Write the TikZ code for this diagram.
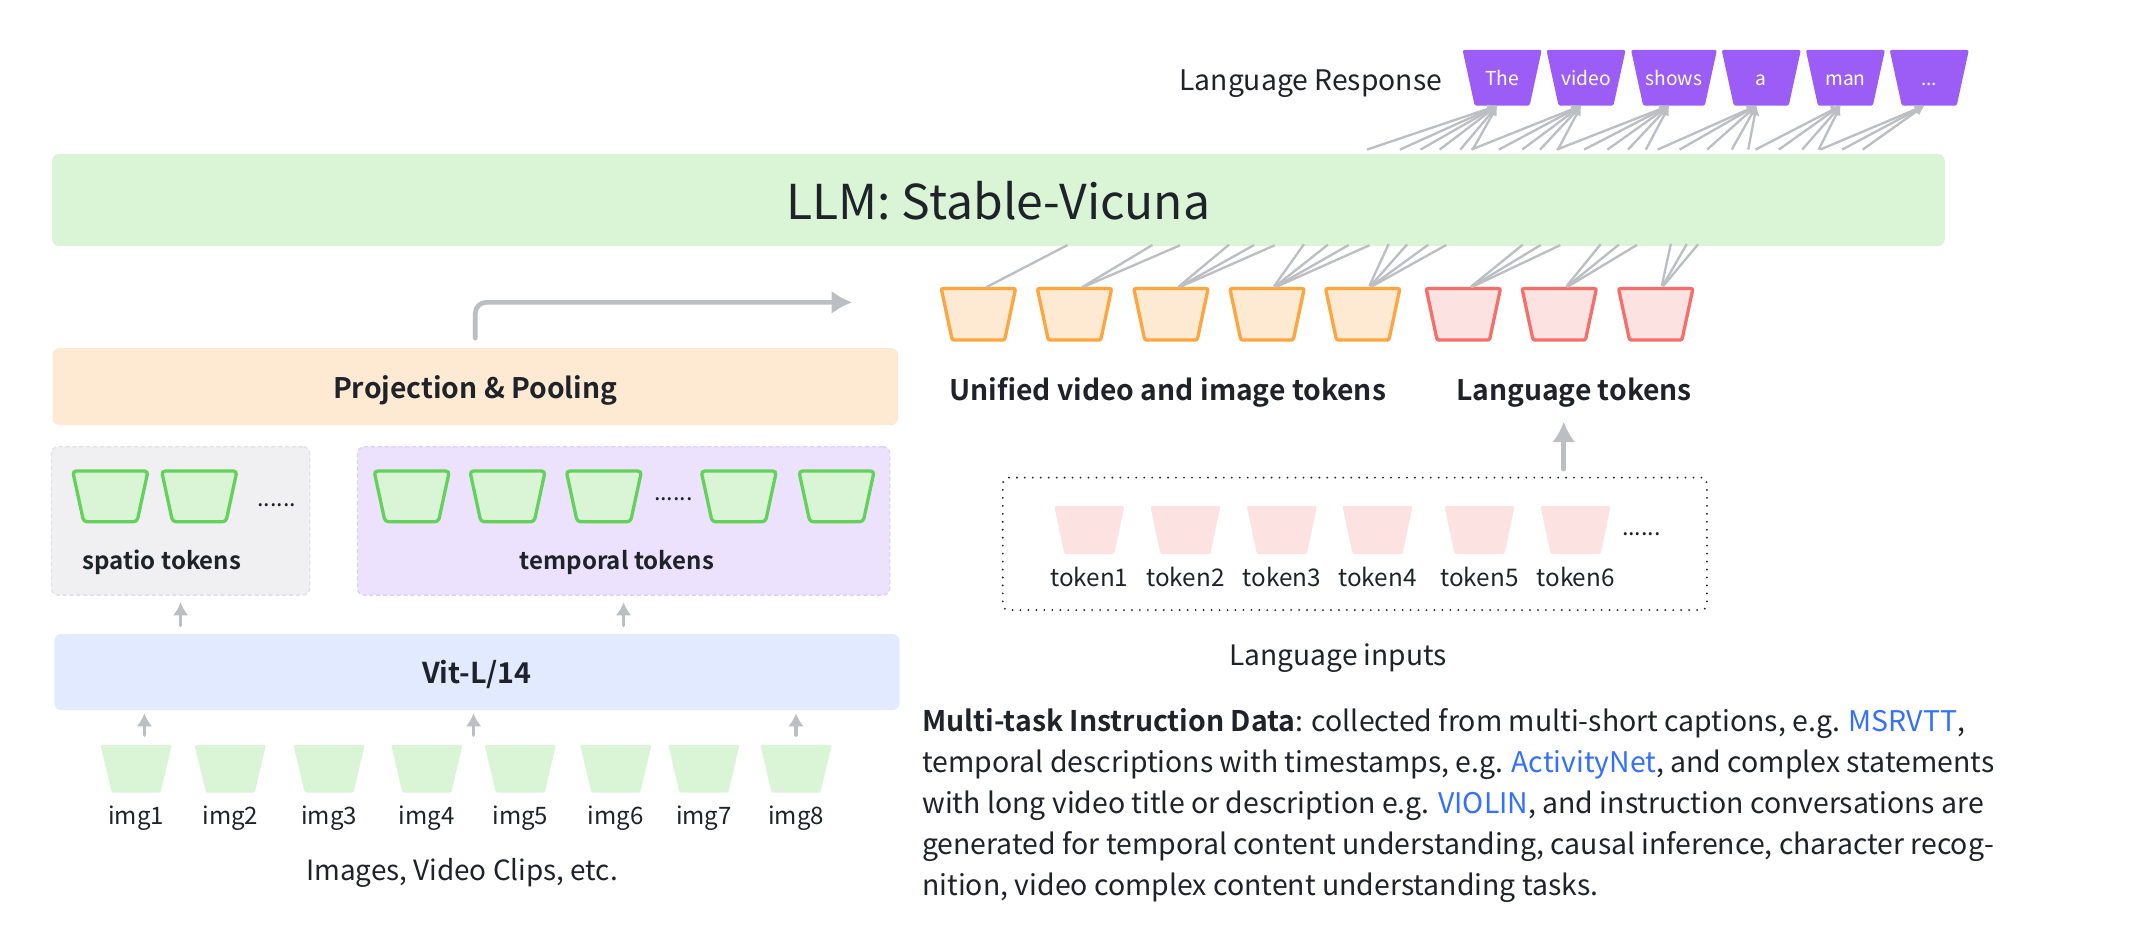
\documentclass[tikz,border=0pt]{standalone}
\usepackage{fontspec}
\setmainfont{Noto Sans CJK SC}[BoldFont={Noto Sans CJK SC Bold}]
\usetikzlibrary{arrows.meta, shapes.geometric, calc}

\definecolor{txt}{HTML}{1F2329}
\definecolor{llmfill}{HTML}{DAF5D6}
\definecolor{purp}{HTML}{9B5DF6}
\definecolor{arrowgray}{HTML}{BBBFC4}
\definecolor{projfill}{HTML}{FEEAD2}
\definecolor{spatfill}{HTML}{F0F0F2}
\definecolor{spatline}{HTML}{E2E2E6}
\definecolor{tempfill}{HTML}{ECE2FE}
\definecolor{templine}{HTML}{DDD0F8}
\definecolor{tokgreen}{HTML}{62D25A}
\definecolor{vitfill}{HTML}{E1EAFF}
\definecolor{tokorange}{HTML}{FFA53D}
\definecolor{orangefill}{HTML}{FEEAD3}
\definecolor{tokred}{HTML}{F76E69}
\definecolor{redfill}{HTML}{FDE2E2}
\definecolor{linkblue}{HTML}{3370FF}

\newcommand{\fsz}[1]{\fontsize{#1}{#1}\selectfont}

\tikzset{
  bar/.style={rounded corners=5pt, inner sep=0pt, text depth=0pt},
  tok/.style={trapezium, shape border rotate=180, outer sep=0pt,
    minimum width=0pt, minimum height=0pt, rounded corners=1.5pt},
  greentok/.style={tok, trapezium angle=77.8, draw=tokgreen, fill=llmfill, line width=2.4pt,
    rounded corners=2.5pt, inner xsep=19.45pt, inner ysep=18.45pt},
  orangetok/.style={tok, trapezium angle=78, draw=tokorange, fill=orangefill, line width=2.4pt,
    inner xsep=19.1pt, inner ysep=18.8pt},
  redtok/.style={orangetok, draw=tokred, fill=redfill},
  imgtok/.style={tok, trapezium angle=76.7, fill=llmfill, inner xsep=17.75pt, inner ysep=17.4pt},
  pinktok/.style={tok, trapezium angle=78, fill=redfill, inner xsep=18.15pt, inner ysep=17.5pt},
  purptok/.style={tok, trapezium angle=77.7, fill=purp, text=white, font=\fsz{14},
    text width=40pt, align=center, text height=11pt, text depth=0pt,
    inner xsep=0pt, inner ysep=14.8pt},
  fan/.style={draw=arrowgray, line width=1.7pt},
  fanarrow/.style={fan, -{Latex[length=7pt, width=7pt]}},
  smallarrow/.style={draw=arrowgray, line width=2.5pt, line cap=round, -{Latex[length=9.5pt, width=11.5pt]}},
  bigarrow/.style={draw=arrowgray, line width=3.4pt, line cap=round, -{Latex[length=15pt, width=17pt]}},
  lbl/.style={inner sep=0pt, anchor=base},
}

\begin{document}
\begin{tikzpicture}[x=1pt, y=-1pt, every node/.append style={text=txt}]
  \fill[white] (0,0) rectangle (1568,690.7);
  \useasboundingbox (0,0) rectangle (1568,690.7);

  % language response
  \node[lbl, font=\fsz{20.6}] (resp) at (955, 65.6) {Language Response};
  \node[purptok] (w1) at (1094.5, 56.7) {The};
  \node[purptok] (w2) at (1155.6, 56.7) {video};
  \node[purptok, text width=44.9pt] (w3) at (1219.7, 56.7) {shows};
  \node[purptok] (w4) at (1283.3, 56.7) {a};
  \node[purptok] (w5) at (1344.6, 56.7) {man};
  \node[purptok] (w6) at (1405.7, 56.7) {...};

  % LLM
  \node[bar, fill=llmfill, minimum width=1379pt, minimum height=67.1pt, font=\fsz{35}] (llm)
    at (727.5, 145.75) {LLM: Stable-Vicuna};

  \foreach \n/\offs in {w1/{-95,-71,-56,-42,-27,-18}, w2/{-80,-60,-43,-30,-17},
      w3/{-82,-62,-45,-30,-17}, w4/{-72,-56,-36,-18,-6}, w5/{-62,-45,-28,-16}, w6/{-76,-60,-45}}
    \foreach \o in \offs
      \draw[fanarrow] ($(\n.south |- llm.north)+(\o-3.5,-3)$) -- ([xshift=-3.5pt]\n.south);

  % token row under the LLM
  \node[orangetok] (vt1) at (712.9, 229) {};
  \node[orangetok] (vt2) at (782.9, 229) {};
  \node[orangetok] (vt3) at (853.2, 229) {};
  \node[orangetok] (vt4) at (923.2, 229) {};
  \node[orangetok] (vt5) at (992.9, 229) {};
  \node[redtok] (lt1) at (1066.2, 229) {};
  \node[redtok] (lt2) at (1136.1, 229) {};
  \node[redtok] (lt3) at (1206.4, 229) {};

  \foreach \n/\ends in {vt1/{776}, vt2/{838,858}, vt3/{894,912,927}, vt4/{949,966,981,996},
      vt5/{1011,1024,1039,1052}, lt1/{1108,1121,1135}, lt2/{1165,1178,1191}, lt3/{1217,1228,1236}}
    \foreach \e in \ends
      \draw[fan, shorten <=2pt, shorten >=-2pt] ([xshift=4pt]\n.north) -- (llm.south -| \e,0);

  \node[lbl, font=\bfseries\fsz{20.6}] (unified) at (850.8, 292) {Unified video and image tokens};
  \node[lbl, font=\bfseries\fsz{20.6}] (langtok) at (1146.8, 292) {Language tokens};

  % visual branch
  \coordinate (vin) at (621, 220.3);
  \node[bar, fill=projfill, minimum width=616pt, minimum height=56.1pt, font=\bfseries\fsz{20.6}] (proj)
    at (346.3, 281.65) {Projection \& Pooling};
  \draw[bigarrow, rounded corners=8pt] ([yshift=7pt]proj.north) |- (vin);

  \node[bar, fill=spatfill, draw=spatline, dash pattern=on 3pt off 2pt, line width=1pt,
    minimum width=188.2pt, minimum height=108.1pt] (spatio) at (131.6, 379.55) {};
  \node[bar, fill=tempfill, draw=templine, dash pattern=on 3pt off 2pt, line width=1pt,
    minimum width=387.7pt, minimum height=108.1pt] (temporal) at (454.35, 379.55) {};

  \node[greentok] (s1) at (80.4, 361.7) {};
  \node[greentok] (s2) at (145.2, 361.7) {};
  \node[lbl, font=\fsz{17}] (sdots) at (201.5, 369) {......};
  \node[greentok] (t1) at (300, 361.7) {};
  \node[greentok] (t2) at (369.8, 361.7) {};
  \node[greentok] (t3) at (440, 361.7) {};
  \node[lbl, font=\fsz{17}] (tdots) at (490.7, 365) {......};
  \node[greentok] (t4) at (538.3, 361.7) {};
  \node[greentok] (t5) at (609.5, 361.7) {};
  \node[lbl, font=\bfseries\fsz{17.5}] (slabel) at (118, 415.3) {spatio tokens};
  \node[lbl, font=\bfseries\fsz{17.5}] (tlabel) at (449.5, 415.3) {temporal tokens};

  \node[bar, fill=vitfill, minimum width=615.7pt, minimum height=55.4pt, font=\bfseries\fsz{20.9}] (vit)
    at (347.45, 489.7) {Vit-L/14};
  \draw[smallarrow, shorten <=6pt, shorten >=4.8pt] (spatio.south |- vit.north) -- (spatio.south);
  \draw[smallarrow, shorten <=6pt, shorten >=4.8pt] (temporal.south |- vit.north) -- (temporal.south);

  \node[imgtok] (i1) at (99.2, 560.2) {};
  \node[imgtok] (i2) at (167.8, 560.2) {};
  \node[imgtok] (i3) at (239.8, 560.2) {};
  \node[imgtok] (i4) at (311, 560.2) {};
  \node[imgtok] (i5) at (379.1, 560.2) {};
  \node[imgtok] (i6) at (448.7, 560.2) {};
  \node[imgtok] (i7) at (512.9, 560.2) {};
  \node[imgtok] (i8) at (580, 560.2) {};
  \node[lbl, font=\fsz{17.5}] (n1) at (99.2, 600.4) {img1};
  \node[lbl, font=\fsz{17.5}] (n2) at (167.8, 600.4) {img2};
  \node[lbl, font=\fsz{17.5}] (n3) at (239.8, 600.4) {img3};
  \node[lbl, font=\fsz{17.5}] (n4) at (311, 600.4) {img4};
  \node[lbl, font=\fsz{17.5}] (n5) at (379.1, 600.4) {img5};
  \node[lbl, font=\fsz{17.5}] (n6) at (448.7, 600.4) {img6};
  \node[lbl, font=\fsz{17.5}] (n7) at (512.9, 600.4) {img7};
  \node[lbl, font=\fsz{17.5}] (n8) at (580, 600.4) {img8};
  \node[lbl, font=\fsz{20.3}] (imgcap) at (336.6, 641.7) {Images, Video Clips, etc.};

  \coordinate (a1) at ($(i1.north)+(6,0)$);
  \coordinate (a45) at ($(i4.north)!0.5!(i5.north)$);
  \draw[smallarrow, shorten <=7.2pt, shorten >=2.2pt] (a1) -- (a1 |- vit.south);
  \draw[smallarrow, shorten <=7.2pt, shorten >=2.2pt] (a45) -- (a45 |- vit.south);
  \draw[smallarrow, shorten <=7.2pt, shorten >=2.2pt] (i8.north) -- (i8.north |- vit.south);

  % language inputs
  \node[draw=txt, line width=1.5pt, line cap=round, dash pattern=on 0pt off 5.8pt, rounded corners=4pt,
    minimum width=513.1pt, minimum height=96.5pt] (inbox) at (987.15, 396.25) {};
  \node[pinktok] (p1) at (793.7, 386.2) {};
  \node[pinktok] (p2) at (863.7, 386.2) {};
  \node[pinktok] (p3) at (934, 386.2) {};
  \node[pinktok] (p4) at (1003.7, 386.2) {};
  \node[pinktok] (p5) at (1078, 386.2) {};
  \node[pinktok] (p6) at (1148, 386.2) {};
  \node[lbl, font=\fsz{17}] (pdots) at (1196, 390) {......};
  \node[lbl, font=\fsz{17.7}] (k1) at (793.7, 427) {token1};
  \node[lbl, font=\fsz{17.7}] (k2) at (863.7, 427) {token2};
  \node[lbl, font=\fsz{17.7}] (k3) at (934, 427) {token3};
  \node[lbl, font=\fsz{17.7}] (k4) at (1003.7, 427) {token4};
  \node[lbl, font=\fsz{17.7}] (k5) at (1078, 427) {token5};
  \node[lbl, font=\fsz{17.7}] (k6) at (1148, 427) {token6};
  \node[lbl, font=\fsz{20.5}] (langin) at (975, 484.6) {Language inputs};

  \coordinate (ltip) at ($(langtok.base)+(-7.4,15.2)$);
  \draw[bigarrow, shorten <=5.5pt] (ltip |- inbox.north) -- (ltip);

  % instruction data
  \node[anchor=north west, align=left, inner sep=0pt, font=\fontsize{20.7}{29.75}\selectfont] (data)
    at (671.8, 516.2) {\textbf{Multi-task Instruction Data}: collected from multi-short captions, e.g. {\color{linkblue}MSRVTT},\\
    temporal descriptions with timestamps, e.g. {\color{linkblue}ActivityNet}, and complex statements\\
    with long video title or description e.g. {\color{linkblue}VIOLIN}, and instruction conversations are\\
    generated for temporal content understanding, causal inference, character recog-\\
    nition, video complex content understanding tasks.};
\end{tikzpicture}
\end{document}
